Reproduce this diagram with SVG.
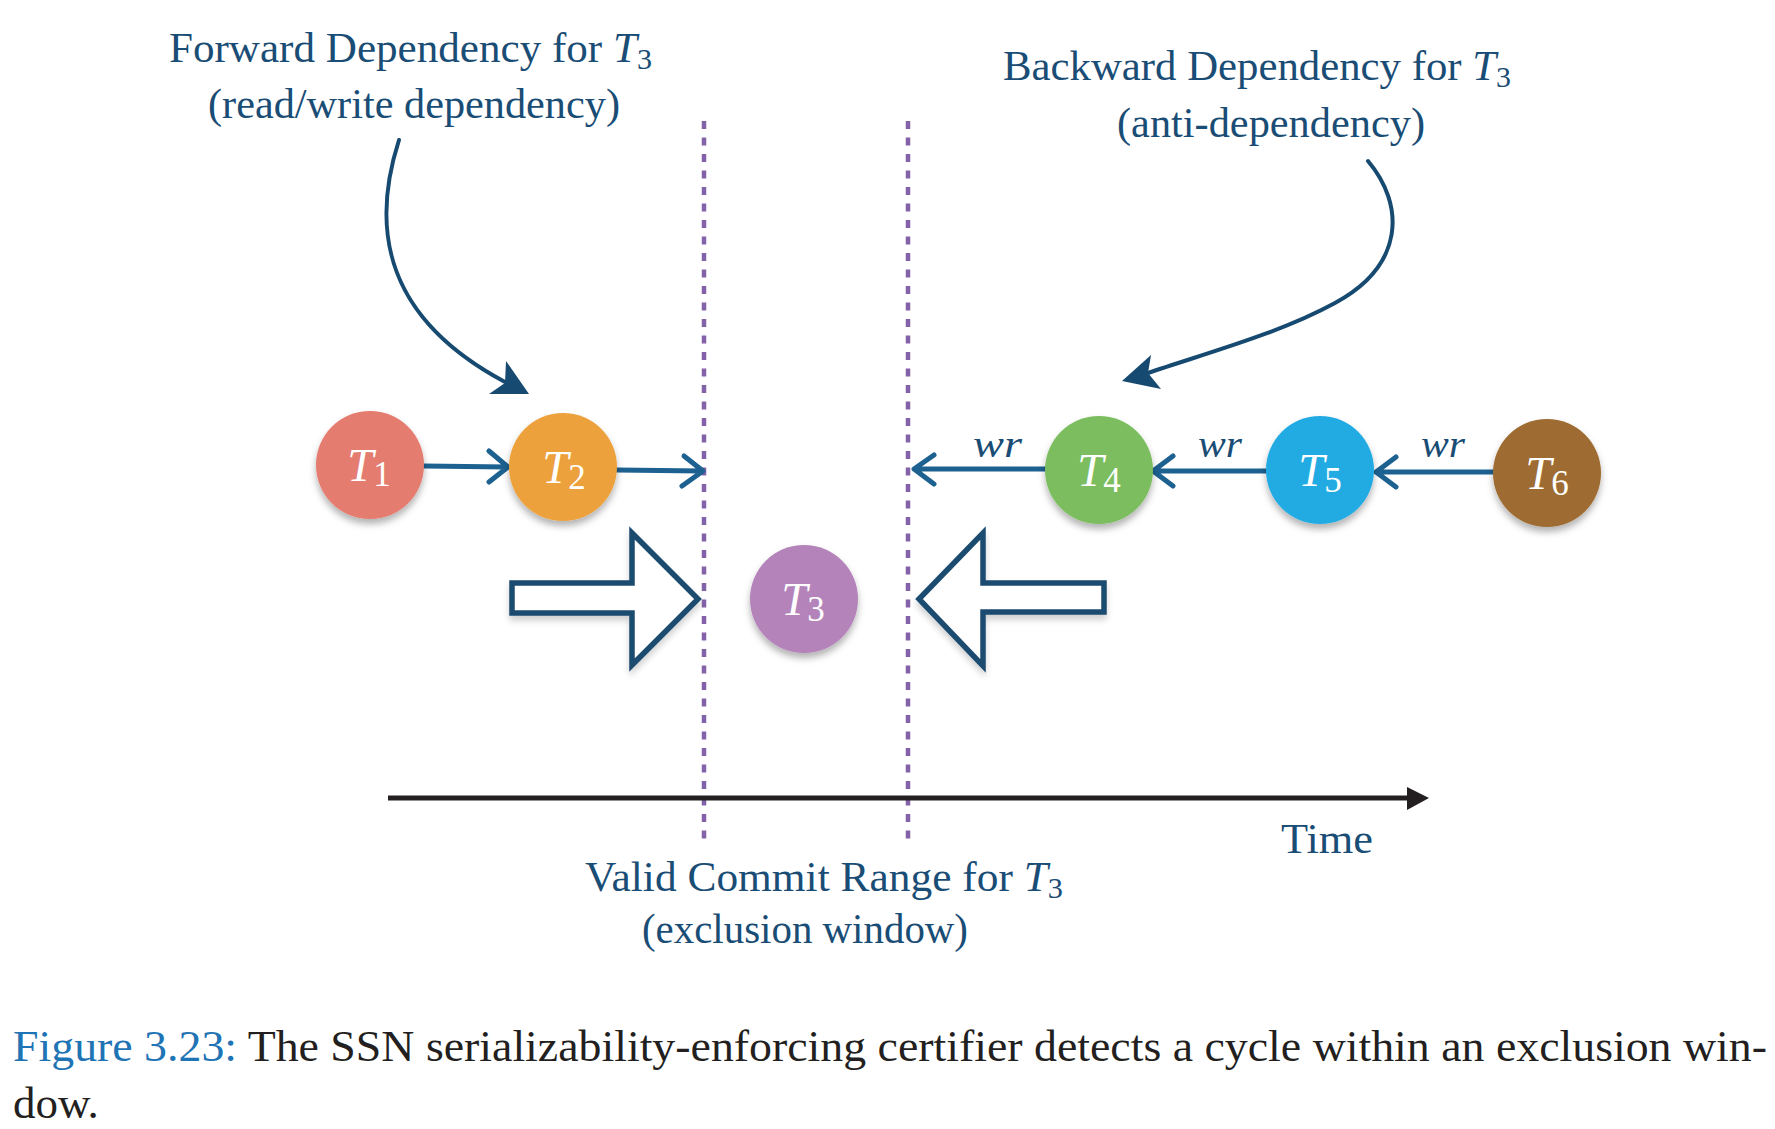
<svg xmlns="http://www.w3.org/2000/svg" width="1775" height="1129" viewBox="0 0 1775 1129">
<style>
.lbl{font-family:"Liberation Serif","Times New Roman",serif;font-size:43px;fill:#1a4d75}
.it{font-style:italic}
.sub{font-size:30px;font-style:normal}
.tl{font-family:"Liberation Serif","Times New Roman",serif;font-size:47px;font-style:italic;fill:#ffffff;text-anchor:middle}
.ts{font-size:35px;font-style:normal}
.wr{font-family:"Liberation Serif","Times New Roman",serif;font-size:37px;font-style:italic;fill:#1a4d75}
.cap{font-family:"Liberation Serif","Times New Roman",serif;font-size:45px;fill:#231f20}
.dash{stroke:#8462a9;stroke-width:4.5;stroke-dasharray:8 8.5;fill:none}
.harr{stroke:#1d6190;stroke-width:5;fill:none;stroke-linecap:round;stroke-linejoin:round}
.curve{stroke:#174a70;stroke-width:4;fill:none;stroke-linecap:round}
.head{fill:#174a70}
.block{fill:#ffffff;stroke:#1c4b70;stroke-width:5.5;stroke-linejoin:miter}
</style>
<defs>
<filter id="sh" x="-40%" y="-40%" width="180%" height="190%">
<feDropShadow dx="0" dy="5" stdDeviation="3.5" flood-color="#000000" flood-opacity="0.3"/>
</filter>
<filter id="sh2" x="-20%" y="-20%" width="140%" height="150%">
<feDropShadow dx="0" dy="5" stdDeviation="3" flood-color="#000000" flood-opacity="0.18"/>
</filter>
</defs>
<rect width="1775" height="1129" fill="#ffffff"/>

<g id="exclusion-window">
<line class="dash" x1="704" y1="121" x2="704" y2="845"/>
<line class="dash" x1="908" y1="121" x2="908" y2="845"/>
</g>

<g id="time-axis">
<line x1="388" y1="798" x2="1412" y2="798" stroke="#231f20" stroke-width="5"/>
<polygon points="1407,787 1429,798 1407,810" fill="#231f20"/>
<text class="lbl" x="1281" y="853" textLength="92" lengthAdjust="spacingAndGlyphs">Time</text>
</g>

<g id="connectors">
<path class="harr" d="M424,466 L507,467 M489,451 L508,467 L489,482"/>
<path class="harr" d="M617,470 L702,471 M684,456 L703,471 L682,486"/>
<path class="harr" d="M1046,469 L915,469 M934,455 L914,469 L934,484"/>
<path class="harr" d="M1267,471 L1153,471 M1173,456 L1153,471 L1173,486"/>
<path class="harr" d="M1494,472 L1376,472 M1396,457 L1376,472 L1396,487"/>
<path class="curve" d="M399,140 C370,230 385,318 505,382"/>
<polygon class="head" points="506,361 529,394 489,394 505,383"/>
<path class="curve" d="M1368,161 C1405,205 1405,265 1335,303 C1280,333 1210,352 1148,373"/>
<polygon class="head" points="1151,355 1148,373 1161,389 1122,381"/>
</g>

<g id="wr-labels">
<text class="wr" x="973" y="457" textLength="49" lengthAdjust="spacingAndGlyphs">wr</text>
<text class="wr" x="1198" y="457" textLength="44" lengthAdjust="spacingAndGlyphs">wr</text>
<text class="wr" x="1421" y="457" textLength="44" lengthAdjust="spacingAndGlyphs">wr</text>
</g>

<g id="forward-arrow" filter="url(#sh2)">
<polygon class="block" points="512,583 632,583 632,533 698,599 632,665 632,613 512,613"/>
</g>
<g id="backward-arrow" filter="url(#sh2)">
<polygon class="block" points="1104,583 983,583 983,533 919,599 983,666 983,612 1104,612"/>
</g>

<g id="T1">
<circle cx="370" cy="465" r="54" fill="#e57b70" filter="url(#sh)"/>
<text class="tl" x="369" y="481">T<tspan class="ts" dy="5">1</tspan></text>
</g>
<g id="T2">
<circle cx="563" cy="467" r="54" fill="#eca13e" filter="url(#sh)"/>
<text class="tl" x="564" y="483">T<tspan class="ts" dy="6">2</tspan></text>
</g>
<g id="T3">
<circle cx="804" cy="599" r="54" fill="#b483ba" filter="url(#sh)"/>
<text class="tl" x="803" y="615">T<tspan class="ts" dy="6">3</tspan></text>
</g>
<g id="T4">
<circle cx="1099" cy="470" r="54" fill="#7bbe5f" filter="url(#sh)"/>
<text class="tl" x="1099" y="486">T<tspan class="ts" dy="6">4</tspan></text>
</g>
<g id="T5">
<circle cx="1320" cy="470" r="54" fill="#23abe2" filter="url(#sh)"/>
<text class="tl" x="1320" y="486">T<tspan class="ts" dy="6">5</tspan></text>
</g>
<g id="T6">
<circle cx="1547" cy="473" r="54" fill="#9e6c30" filter="url(#sh)"/>
<text class="tl" x="1547" y="489">T<tspan class="ts" dy="6">6</tspan></text>
</g>

<g id="forward-label">
<text class="lbl" x="169" y="62" textLength="483" lengthAdjust="spacingAndGlyphs">Forward Dependency for <tspan class="it">T</tspan><tspan class="sub" dy="7">3</tspan></text>
<text class="lbl" x="208" y="118" textLength="412" lengthAdjust="spacingAndGlyphs">(read/write dependency)</text>
</g>
<g id="backward-label">
<text class="lbl" x="1003" y="80" textLength="508" lengthAdjust="spacingAndGlyphs">Backward Dependency for <tspan class="it">T</tspan><tspan class="sub" dy="7">3</tspan></text>
<text class="lbl" x="1117" y="137" textLength="308" lengthAdjust="spacingAndGlyphs">(anti-dependency)</text>
</g>
<g id="window-label">
<text class="lbl" x="585" y="891" textLength="478" lengthAdjust="spacingAndGlyphs">Valid Commit Range for <tspan class="it">T</tspan><tspan class="sub" dy="7">3</tspan></text>
<text class="lbl" x="642" y="943" textLength="326" lengthAdjust="spacingAndGlyphs">(exclusion window)</text>
</g>

<g id="caption">
<text class="cap" x="13" y="1061" textLength="1754" lengthAdjust="spacingAndGlyphs"><tspan fill="#1f74b5">Figure 3.23:</tspan> The SSN serializability-enforcing certifier detects a cycle within an exclusion win-</text>
<text class="cap" x="13" y="1118">dow.</text>
</g>
</svg>
